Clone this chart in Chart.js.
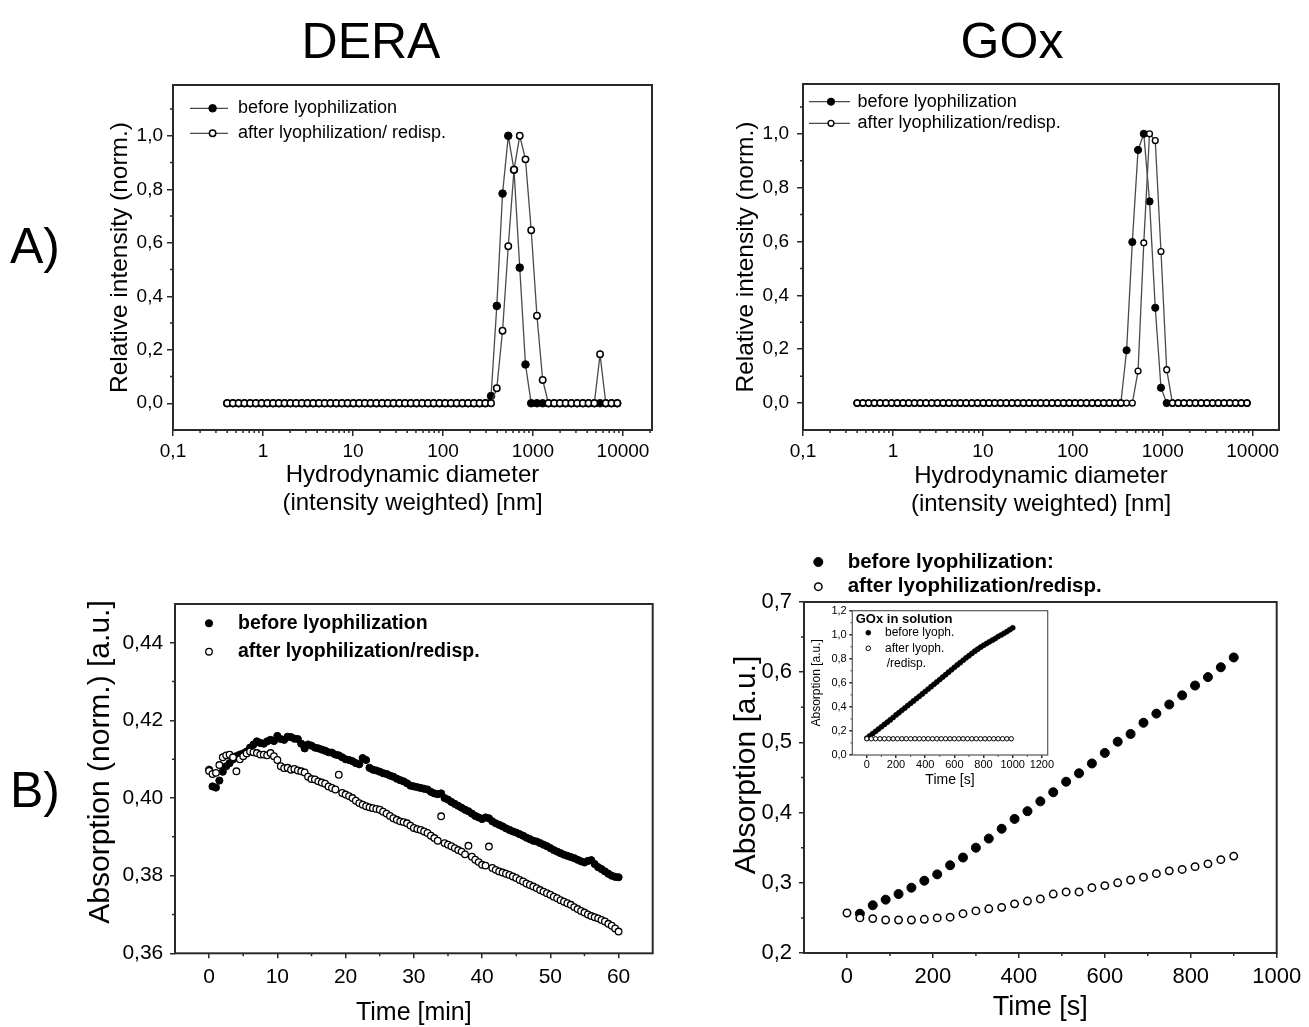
<!DOCTYPE html>
<html><head><meta charset="utf-8">
<script src="https://cdn.jsdelivr.net/npm/chart.js@4.4.1/dist/chart.umd.min.js"></script>
<style>
body{margin:0;background:#fff;width:1309px;height:1027px;overflow:hidden;position:relative;font-family:'Liberation Sans',Arial,sans-serif;}
canvas{position:absolute;}
.lbl{position:absolute;font-size:50px;color:#000;line-height:1;white-space:nowrap;transform:translate(-50%,-50%);}
.side{position:absolute;font-size:50px;color:#000;line-height:1;white-space:nowrap;transform:translateY(-50%);}
</style></head><body>
<div class="lbl" style="left:371px;top:41px">DERA</div>
<div class="lbl" style="left:1012px;top:41px">GOx</div>
<div class="side" style="left:10px;top:246px">A)</div>
<div class="side" style="left:10px;top:790px">B)</div>
<canvas id="cA1" width="610" height="475" style="left:60px;top:50px"></canvas>
<canvas id="cA2" width="610" height="475" style="left:690px;top:50px"></canvas>
<canvas id="cB1" width="610" height="457" style="left:60px;top:570px"></canvas>
<canvas id="cB2" width="619" height="482" style="left:690px;top:545px"></canvas>
<canvas id="cIn" width="255" height="195" style="left:800px;top:595px"></canvas>
<script>
// ---------- DATA ----------
// DLS size bins [nm]
const sizeBins = [0.4, 0.4632, 0.5365, 0.6213, 0.7195, 0.8332, 0.9649, 1.117, 1.294, 1.499,
  1.736, 2.01, 2.328, 2.696, 3.122, 3.615, 4.187, 4.849, 5.615, 6.503,
  7.531, 8.721, 10.1, 11.7, 13.54, 15.69, 18.17, 21.04, 24.36, 28.21,
  32.67, 37.84, 43.82, 50.75, 58.77, 68.06, 78.82, 91.28, 105.7, 122.4,
  141.8, 164.2, 190.1, 220.2, 255, 295.3, 342, 396.1, 458.7, 531.2,
  615.1, 712.4, 825, 955.4, 1106, 1281, 1484, 1718, 1990, 2305,
  2669, 3091, 3580, 4145, 4801, 5560, 6439, 7456, 8635];
const deraBefore = [0,0,0,0,0,0,0,0,0,0, 0,0,0,0,0,0,0,0,0,0, 0,0,0,0,0,0,0,0,0,0,
  0,0,0,0,0,0,0,0,0,0, 0,0,0,0,0,0,
  0.027, 0.364, 0.784, 1.0, 0.873, 0.507, 0.145,
  0,0,0,0,0,0,0,0,0,0, 0,0,0,0,0,0];
const deraAfter = [0,0,0,0,0,0,0,0,0,0, 0,0,0,0,0,0,0,0,0,0, 0,0,0,0,0,0,0,0,0,0,
  0,0,0,0,0,0,0,0,0,0, 0,0,0,0,0,0,
  0, 0.056, 0.271, 0.587, 0.873, 1.0, 0.912, 0.647, 0.327, 0.087,
  0,0,0,0,0,0,0,0,0, 0.183, 0,0,0];
const goxBefore = [0,0,0,0,0,0,0,0,0,0, 0,0,0,0,0,0,0,0,0,0, 0,0,0,0,0,0,0,0,0,0,
  0,0,0,0,0,0,0,0,0,0, 0,0,0,0,0,0,0,
  0.196, 0.598, 0.94, 1.0, 0.749, 0.354, 0.057,
  0,0,0,0,0,0,0,0,0,0, 0,0,0,0,0];
const goxAfter = [0,0,0,0,0,0,0,0,0,0, 0,0,0,0,0,0,0,0,0,0, 0,0,0,0,0,0,0,0,0,0,
  0,0,0,0,0,0,0,0,0,0, 0,0,0,0,0,0,0,0,0,
  0.119, 0.595, 1.0, 0.975, 0.563, 0.124,
  0,0,0,0,0,0,0,0,0,0, 0,0,0,0];

// DERA activity [min]
const bTime = [0,0.5,1,1.5,2,2.5,3,3.5,4,4.5,5,5.5,6,6.5,7,7.5,8,8.5,9,9.5,
  10,10.5,11,11.5,12,12.5,13,13.5,14,14.5,15,15.5,16,16.5,17,17.5,18,18.5,19,19.5,
  20,20.5,21,21.5,22,22.5,23,23.5,24,24.5,25,25.5,26,26.5,27,27.5,28,28.5,29,29.5,
  30,30.5,31,31.5,32,32.5,33,33.5,34,34.5,35,35.5,36,36.5,37,37.5,38,38.5,39,39.5,
  40,40.5,41,41.5,42,42.5,43,43.5,44,44.5,45,45.5,46,46.5,47,47.5,48,48.5,49,49.5,
  50,50.5,51,51.5,52,52.5,53,53.5,54,54.5,55,55.5,56,56.5,57,57.5,58,58.5,59,59.5,60];
const bBefore = [0.4073,0.4030,0.4027,0.4045,0.4068,0.4082,0.4090,0.4100,0.4108,0.4112,
  0.4115,0.4120,0.4130,0.4138,0.4146,0.4142,0.4140,0.4146,0.4150,0.4147,
  0.4160,0.4152,0.4150,0.4158,0.4157,0.4153,0.4152,0.4140,0.4128,0.4138,
  0.4135,0.4130,0.4128,0.4125,0.4122,0.4118,0.4117,0.4112,0.4110,0.4105,
  0.4100,0.4098,0.4095,0.4090,0.4087,0.4103,0.4098,0.4078,0.4073,0.4071,
  0.4068,0.4064,0.4062,0.4058,0.4055,0.4050,0.4046,0.4043,0.4038,0.4032,
  0.4030,0.4028,0.4026,0.4024,0.4022,0.4016,0.4012,0.4010,0.4012,0.4000,
  0.3996,0.3990,0.3985,0.3980,0.3975,0.3970,0.3966,0.3960,0.3954,0.3950,
  0.3946,0.3950,0.3948,0.3940,0.3935,0.3931,0.3927,0.3922,0.3918,0.3914,
  0.3911,0.3907,0.3903,0.3898,0.3894,0.3890,0.3888,0.3884,0.3880,0.3876,
  0.3871,0.3866,0.3862,0.3858,0.3854,0.3851,0.3848,0.3845,0.3841,0.3837,
  0.3834,0.3838,0.3840,0.3830,0.3822,0.3817,0.3811,0.3805,0.3800,0.3797,
  0.3796];
const bAfter = [0.4070,0.4062,0.4065,0.4085,0.4105,0.4110,0.4112,0.4105,0.4069,0.4100,
  0.4108,0.4115,0.4120,0.4118,0.4116,0.4112,0.4112,0.4110,0.4116,0.4108,
  0.4098,0.4082,0.4077,0.4078,0.4073,0.4075,0.4071,0.4069,0.4066,0.4055,
  0.4049,0.4048,0.4043,0.4040,0.4037,0.4030,0.4026,0.4022,0.4060,0.4013,
  0.4009,0.4005,0.4000,0.3993,0.3987,0.3983,0.3979,0.3976,0.3974,0.3972,
  0.3970,0.3965,0.3960,0.3954,0.3948,0.3944,0.3940,0.3938,0.3935,0.3929,
  0.3923,0.3920,0.3918,0.3914,0.3910,0.3903,0.3897,0.3890,0.3953,0.3884,
  0.3880,0.3876,0.3871,0.3866,0.3862,0.3855,0.3877,0.3849,0.3841,0.3835,
  0.3828,0.3826,0.3875,0.3820,0.3815,0.3811,0.3808,0.3805,0.3802,0.3798,
  0.3794,0.3789,0.3785,0.3780,0.3776,0.3772,0.3768,0.3763,0.3759,0.3755,
  0.3751,0.3746,0.3742,0.3737,0.3733,0.3729,0.3725,0.3719,0.3714,0.3709,
  0.3705,0.3700,0.3696,0.3693,0.3690,0.3686,0.3682,0.3676,0.3671,0.3664,
  0.3656];

// GOx activity [s]
const gTime = [0,30,60,90,120,150,180,210,240,270,300,330,360,390,420,450,480,510,540,570,600,630,660,690,720,750,780,810,840,870,900];
const gBefore = [null,0.256,0.268,0.276,0.284,0.293,0.303,0.312,0.325,0.336,0.350,0.363,0.377,0.391,0.402,0.416,
  0.429,0.444,0.456,0.470,0.485,0.501,0.512,0.528,0.541,0.554,0.567,0.581,0.593,0.607,0.621];
const gAfter = [0.257,0.250,0.249,0.247,0.247,0.247,0.248,0.250,0.251,0.256,0.260,0.263,0.265,0.270,0.274,0.277,
  0.284,0.287,0.287,0.293,0.296,0.300,0.304,0.308,0.313,0.317,0.319,0.323,0.327,0.333,0.338];

// Inset: GOx in solution
const iTimeB = [0,20,40,60,80,100,120,140,160,180,200,220,240,260,280,300,320,340,360,380,
  400,420,440,460,480,500,520,540,560,580,600,620,640,660,680,700,720,740,760,780,
  800,820,840,860,880,900,920,940,960,980,1000];
const iBefore = [0.140,0.160,0.178,0.197,0.216,0.235,0.254,0.273,0.292,0.312,
  0.333,0.352,0.372,0.391,0.411,0.430,0.450,0.469,0.488,0.508,
  0.528,0.548,0.568,0.588,0.608,0.628,0.648,0.668,0.689,0.709,
  0.729,0.749,0.768,0.788,0.808,0.826,0.845,0.863,0.880,0.897,
  0.912,0.927,0.941,0.955,0.968,0.985,0.998,1.012,1.026,1.042,1.058];
const iTimeA = [0,30,60,90,120,150,180,210,240,270,300,330,360,390,420,450,480,510,540,570,
  600,630,660,690,720,750,780,810,840,870,900,930,960,990];
const iAfter = [0.135,0.135,0.135,0.135,0.135,0.135,0.135,0.135,0.135,0.135,
  0.135,0.135,0.135,0.135,0.135,0.135,0.135,0.135,0.135,0.135,
  0.135,0.135,0.135,0.135,0.135,0.135,0.135,0.135,0.135,0.135,
  0.135,0.135,0.135,0.135];

// Tick values
const logTicks = [0.1, 1, 10, 100, 1000, 10000];
const relTicks = [0, 0.2, 0.4, 0.6, 0.8, 1.0];
const bXTicks = [0, 10, 20, 30, 40, 50, 60];
const bYTicks = [0.36, 0.38, 0.40, 0.42, 0.44];
const gXTicks = [0, 200, 400, 600, 800, 1000];
const gYTicks = [0.2, 0.3, 0.4, 0.5, 0.6, 0.7];
const iXTicks = [0, 200, 400, 600, 800, 1000, 1200];
const iYTicks = [0, 0.2, 0.4, 0.6, 0.8, 1.0, 1.2];

// ---------- HELPERS ----------
const FONT = "'Liberation Sans', Arial, sans-serif";
const INK = '#000';
const pts = (xs, ys) => xs.map((x, i) => ({x: x, y: ys[i]}));
const comma = d => v => Number(v).toFixed(d).replace('.', ',');
const logFmt = v => String(v).replace('.', ',');
function logMinor(min, max) {
  const out = [];
  for (let d = 0.1; d < max; d *= 10) for (let k = 2; k <= 9; k++) { const v = k * d; if (v > min && v < max) out.push(v); }
  return out;
}

const decor = {
  id: 'decor',
  beforeDatasetsDraw(chart, args, o) {
    if (o.fillArea) {
      const a = chart.chartArea, ctx = chart.ctx;
      ctx.save(); ctx.fillStyle = '#fff'; ctx.fillRect(a.left, a.top, a.right - a.left, a.bottom - a.top); ctx.restore();
    }
  },
  afterDraw(chart, args, o) {
    const ctx = chart.ctx, a = chart.chartArea, xs = chart.scales.x, ys = chart.scales.y;
    ctx.save();
    ctx.strokeStyle = o.frameColor || '#2a2a2a';
    ctx.lineWidth = o.frameWidth || 2;
    ctx.strokeRect(a.left, a.top, a.right - a.left, a.bottom - a.top);
    ctx.lineWidth = o.tickWidth || 1.5;
    ctx.beginPath();
    (o.minorX || []).forEach(v => { if (v <= xs.min || v >= xs.max) return; const p = xs.getPixelForValue(v); ctx.moveTo(p, a.bottom); ctx.lineTo(p, a.bottom + o.minorLen); });
    (o.minorY || []).forEach(v => { if (v <= ys.min || v >= ys.max) return; const p = ys.getPixelForValue(v); ctx.moveTo(a.left, p); ctx.lineTo(a.left - o.minorLen, p); });
    ctx.stroke();
    if (o.yTitle) {
      const t = o.yTitle;
      ctx.save();
      ctx.translate(t.x, t.y); ctx.rotate(-Math.PI / 2);
      ctx.fillStyle = INK; ctx.font = t.font; ctx.textAlign = 'center'; ctx.textBaseline = 'middle';
      ctx.fillText(t.text, 0, 0);
      ctx.restore();
    }
    (o.legend || []).forEach(it => {
      if (it.ds !== undefined) {
        const ds = chart.data.datasets[it.ds];
        if (it.line) {
          ctx.strokeStyle = ds.borderColor; ctx.lineWidth = ds.borderWidth;
          ctx.beginPath(); ctx.moveTo(it.line[0], it.y); ctx.lineTo(it.line[1], it.y); ctx.stroke();
        }
        ctx.beginPath(); ctx.arc(it.x, it.y, it.r, 0, Math.PI * 2);
        ctx.fillStyle = ds.pointBackgroundColor; ctx.fill();
        ctx.lineWidth = ds.pointBorderWidth; ctx.strokeStyle = ds.pointBorderColor; ctx.stroke();
      }
      if (it.text) {
        ctx.fillStyle = INK; ctx.font = it.font; ctx.textAlign = 'left'; ctx.textBaseline = 'middle';
        ctx.fillText(it.text, it.tx, it.y);
      }
    });
    ctx.restore();
  }
};

function axis(o) {
  return {
    type: o.type || 'linear', position: o.pos, min: o.min, max: o.max,
    afterBuildTicks: s => { s.ticks = o.ticks.map(v => ({value: v})); },
    afterFit: s => { if (o.pos === 'bottom') s.height = o.size; else s.width = o.size; },
    border: {display: false},
    grid: {drawOnChartArea: false, drawTicks: true, tickLength: o.tickLen, color: '#2a2a2a', lineWidth: 1.5},
    ticks: {autoSkip: false, maxRotation: 0, minRotation: 0, padding: o.pad, color: INK,
      font: {family: FONT, size: o.fs}, callback: o.fmt},
    title: {display: !!o.title, text: o.title || '', color: INK,
      font: {family: FONT, size: o.tfs || 12, lineHeight: o.tlh || 1.2}, padding: o.tpad || 0}
  };
}
function make(id, datasets, xo, yo, padding, dec) {
  return new Chart(document.getElementById(id), {
    type: 'scatter',
    data: {datasets: datasets},
    options: {
      responsive: false, animation: false, devicePixelRatio: 1,
      layout: {padding: padding},
      scales: {x: axis(xo), y: axis(yo)},
      plugins: {legend: {display: false}, tooltip: {enabled: false}, decor: dec}
    },
    plugins: [decor]
  });
}
function lineSym(label, data, filled, r, bw) {
  return {label: label, data: data, showLine: true, borderColor: '#4a4a4a', borderWidth: 1.3,
    pointRadius: r, pointHoverRadius: r, pointStyle: 'circle',
    pointBackgroundColor: filled ? '#000' : '#fff', pointBorderColor: '#000', pointBorderWidth: bw,
    order: filled ? 1 : 0};
}
function sym(label, data, filled, r, bw) {
  return {label: label, data: data, showLine: false,
    pointRadius: r, pointHoverRadius: r, pointStyle: 'circle',
    pointBackgroundColor: filled ? '#000' : '#fff', pointBorderColor: '#000', pointBorderWidth: bw,
    order: filled ? 1 : 0};
}

// ---------- A) DERA ----------
make('cA1',
  [lineSym('after lyophilization/ redisp.', pts(sizeBins, deraAfter), false, 3.2, 1.5),
   lineSym('before lyophilization', pts(sizeBins, deraBefore), true, 3.8, 1)],
  {type: 'logarithmic', pos: 'bottom', min: 0.1, max: 21000, ticks: logTicks, fmt: logFmt, size: 95, tickLen: 6, pad: 4, fs: 19,
   title: ['Hydrodynamic diameter', '(intensity weighted) [nm]'], tfs: 24, tlh: 28 / 24, tpad: {top: 0, bottom: 8}},
  {pos: 'left', min: -0.1, max: 1.19, ticks: relTicks, fmt: comma(1), size: 113, tickLen: 6, pad: 4, fs: 19,
   title: 'Relative intensity (norm.)', tfs: 24.5, tlh: 1.2, tpad: {top: 45.3, bottom: 0}},
  {top: 35, right: 18, left: 0, bottom: 0},
  {minorX: logMinor(0.1, 21000), minorY: [-0.1, 0.1, 0.3, 0.5, 0.7, 0.9, 1.1], minorLen: 3,
   legend: [
     {ds: 1, x: 152.6, y: 58.3, r: 3.8, line: [130, 168], text: 'before lyophilization', tx: 178, font: '18px ' + FONT},
     {ds: 0, x: 152.6, y: 83.3, r: 3.2, line: [130, 168], text: 'after lyophilization/ redisp.', tx: 178, font: '18px ' + FONT}
   ]});

// ---------- A) GOx ----------
make('cA2',
  [lineSym('after lyophilization/redisp.', pts(sizeBins, goxAfter), false, 2.9, 1.4),
   lineSym('before lyophilization', pts(sizeBins, goxBefore), true, 3.6, 1)],
  {type: 'logarithmic', pos: 'bottom', min: 0.1, max: 19600, ticks: logTicks, fmt: logFmt, size: 95, tickLen: 6, pad: 4.6, fs: 19,
   title: ['Hydrodynamic diameter', '(intensity weighted) [nm]'], tfs: 24, tlh: 28 / 24, tpad: {top: 0, bottom: 6.3}},
  {pos: 'left', min: -0.1, max: 1.185, ticks: relTicks, fmt: comma(1), size: 113, tickLen: 6, pad: 8, fs: 19,
   title: 'Relative intensity (norm.)', tfs: 24.5, tlh: 1.2, tpad: {top: 41.3, bottom: 0}},
  {top: 34, right: 21, left: 0, bottom: 0},
  {minorX: logMinor(0.1, 19600), minorY: [-0.1, 0.1, 0.3, 0.5, 0.7, 0.9, 1.1], minorLen: 3,
   legend: [
     {ds: 1, x: 141, y: 51.7, r: 3.6, line: [119, 160], text: 'before lyophilization', tx: 167.6, font: '18px ' + FONT},
     {ds: 0, x: 141, y: 73.3, r: 2.9, line: [119, 160], text: 'after lyophilization/redisp.', tx: 167.6, font: '18px ' + FONT}
   ]});

// ---------- B) DERA ----------
make('cB1',
  [sym('after lyophilization/redisp.', pts(bTime, bAfter), false, 3.3, 1.3),
   sym('before lyophilization', pts(bTime, bBefore), true, 3.6, 1)],
  {pos: 'bottom', min: -5, max: 65, ticks: bXTicks, fmt: v => String(v), size: 73.7, tickLen: 5, pad: 6, fs: 21,
   title: 'Time [min]', tfs: 25, tlh: 1.0, tpad: {top: 0, bottom: 1.5}},
  {pos: 'left', min: 0.36, max: 0.45, ticks: bYTicks, fmt: comma(2), size: 115, tickLen: 5, pad: 6.7, fs: 21},
  {top: 34, right: 17.3, left: 0, bottom: 0},
  {minorX: [-5, 5, 15, 25, 35, 45, 55, 65], minorY: [0.37, 0.39, 0.41, 0.43, 0.45], minorLen: 3,
   yTitle: {text: 'Absorption (norm.) [a.u.]', x: 41, y: 192, font: '30px ' + FONT},
   legend: [
     {ds: 1, x: 149, y: 53.3, r: 3.6, text: 'before lyophilization', tx: 178, font: 'bold 19.5px ' + FONT},
     {ds: 0, x: 149, y: 81.7, r: 3.3, text: 'after lyophilization/redisp.', tx: 178, font: 'bold 19.5px ' + FONT}
   ]});

// ---------- B) GOx ----------
make('cB2',
  [sym('after lyophilization/redisp.', pts(gTime, gAfter), false, 3.7, 1.5),
   sym('before lyophilization:', pts(gTime, gBefore), true, 4.5, 1)],
  {pos: 'bottom', min: -100, max: 1000, ticks: gXTicks, fmt: v => String(v), size: 74, tickLen: 5, pad: 5.8, fs: 22,
   title: 'Time [s]', tfs: 27, tlh: 1.0, tpad: {top: 0, bottom: 5.5}},
  {pos: 'left', min: 0.2, max: 0.7, ticks: gYTicks, fmt: comma(1), size: 114, tickLen: 5, pad: 7, fs: 22},
  {top: 57, right: 32.3, left: 0, bottom: 0},
  {minorX: [-100, 100, 300, 500, 700, 900], minorY: [0.25, 0.35, 0.45, 0.55, 0.65], minorLen: 3,
   yTitle: {text: 'Absorption [a.u.]', x: 57, y: 220, font: '30px ' + FONT},
   legend: [
     {ds: 1, x: 128.3, y: 17, r: 4.5, text: 'before lyophilization:', tx: 157.7, font: 'bold 20.5px ' + FONT},
     {ds: 0, x: 128.3, y: 41.7, r: 3.7, text: 'after lyophilization/redisp.', tx: 157.7, font: 'bold 20.5px ' + FONT}
   ]});

// ---------- Inset ----------
make('cIn',
  [sym('after lyoph. /redisp.', pts(iTimeA, iAfter), false, 2.2, 1),
   sym('before lyoph.', pts(iTimeB, iBefore), true, 2.6, 0.5)],
  {pos: 'bottom', min: -100, max: 1240, ticks: iXTicks, fmt: v => String(v), size: 35, tickLen: 3, pad: 0, fs: 11,
   title: 'Time [s]', tfs: 14, tlh: 1.0, tpad: {top: 0, bottom: 3}},
  {pos: 'left', min: 0, max: 1.2, ticks: iYTicks, fmt: comma(1), size: 52.3, tickLen: 3, pad: 2.6, fs: 11,
   title: 'Absorption [a.u.]', tfs: 12, tlh: 1.2, tpad: {top: 9.5, bottom: 0}},
  {top: 15.7, right: 7.3, left: 0, bottom: 0},
  {fillArea: true, frameColor: '#555', frameWidth: 1.2, tickWidth: 1, minorX: [100, 300, 500, 700, 900, 1100], minorY: [0.1, 0.3, 0.5, 0.7, 0.9, 1.1], minorLen: 2,
   legend: [
     {text: 'GOx in solution', tx: 55.7, y: 24.3, font: 'bold 13px ' + FONT},
     {ds: 1, x: 68.3, y: 37.7, r: 2.5, text: 'before lyoph.', tx: 85, font: '12px ' + FONT},
     {ds: 0, x: 68.3, y: 53.3, r: 2.3, text: 'after lyoph.', tx: 85, font: '12px ' + FONT},
     {text: '/redisp.', tx: 86.7, y: 68.3, font: '12px ' + FONT}
   ]});
</script>
</body></html>
